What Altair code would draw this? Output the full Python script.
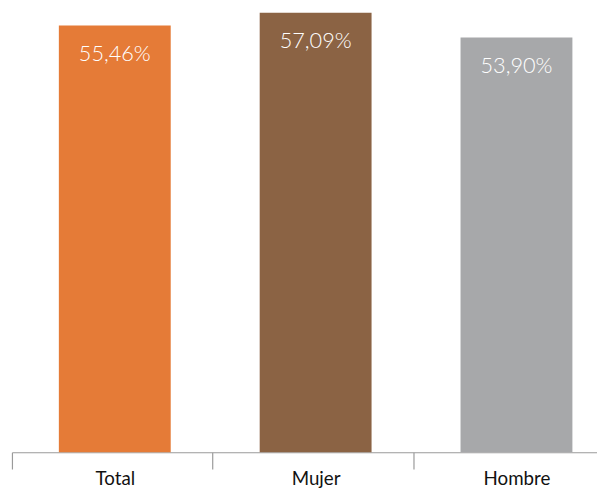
import altair as alt
import pandas as pd

categories = ["Total", "Mujer", "Hombre"]
values = [55.46, 57.09, 53.90]
colors = ["#E57B37", "#8B6344", "#A7A8AA"]

labels = [f"{v:.2f}".replace(".", ",") + "%" for v in values]
df = pd.DataFrame({"cat": categories, "val": values, "label": labels})

x = alt.X("cat:N", sort=categories,
          scale=alt.Scale(paddingInner=0.443, paddingOuter=0.178, align=0.656),
          axis=alt.Axis(title=None, labelAngle=0, bandPosition=0, tickOffset=-48,
                        labelOffset=48,
                        tickSize=17, labelPadding=1, labelFontSize=19, labelFont="Lato",
                        labelFontWeight=400,
                        labelColor="#111111", domainColor="#9a9a9a", tickColor="#9a9a9a",
                        domainWidth=1.2, tickWidth=1.2, grid=False))
y = alt.Y("val:Q", scale=alt.Scale(domain=[0, 57.3], nice=False, zero=True), axis=None)

bars = alt.Chart(df).mark_bar().encode(
    x=x, y=y,
    color=alt.Color("cat:N", scale=alt.Scale(domain=categories, range=colors), legend=None),
)
text = alt.Chart(df).mark_text(color="white", fontSize=22, font="Lato", fontWeight=300,
                               baseline="middle", dy=29).encode(
    x=x, y=y, text="label:N"
)

chart = (bars + text).properties(
    width=593, height=447,
    padding={"left": 4, "top": 0, "right": 0, "bottom": 35},
    autosize=alt.AutoSizeParams(type="none"),
).configure_view(stroke=None)

chart.save("out.html", embed_options={"renderer": "svg", "actions": False})
